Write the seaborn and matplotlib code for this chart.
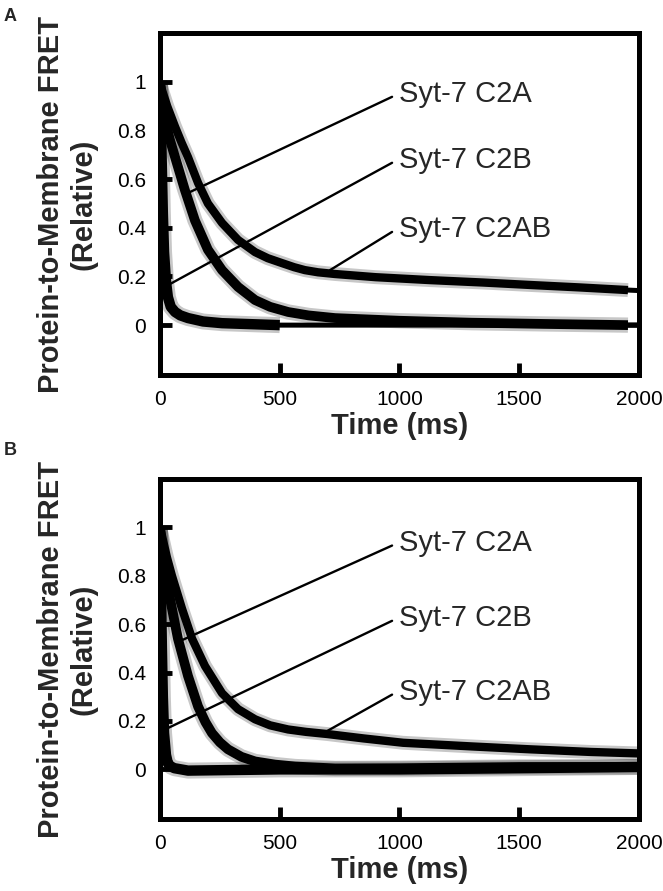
import numpy as np
import pandas as pd
import seaborn as sns
import matplotlib.pyplot as plt

# values (time in ms, relative FRET)
t_slow_a = [0, 8, 30, 63, 90, 117, 159, 200, 259, 326, 397, 450, 509, 560, 605, 660, 731, 900, 1127, 1350, 1545, 1750, 1954]
slow_a = [1.0, 0.967, 0.9, 0.815, 0.75, 0.69, 0.584, 0.50, 0.42, 0.35, 0.30, 0.275, 0.255, 0.238, 0.226, 0.217, 0.21, 0.197, 0.185, 0.175, 0.165, 0.155, 0.144]
t_mid_a = [0, 8, 21, 42, 63, 104, 146, 200, 259, 326, 397, 460, 535, 620, 731, 1000, 1300, 1600, 1954]
mid_a = [1.0, 0.93, 0.84, 0.76, 0.69, 0.555, 0.43, 0.31, 0.226, 0.157, 0.103, 0.075, 0.054, 0.04, 0.029, 0.018, 0.01, 0.005, 0.0]
t_fast_a = [0, 4, 8, 12, 17, 25, 33, 45, 63, 85, 117, 180, 259, 500]
fast_a = [1.0, 0.82, 0.64, 0.46, 0.30, 0.18, 0.115, 0.075, 0.054, 0.04, 0.029, 0.015, 0.008, 0.0]
fit_end_a = [0.142, 0.0, 0.0]  # fitted curves carried on to 2000 ms

t_slow_b = [0, 8, 28, 50, 92, 134, 188, 259, 326, 397, 460, 535, 610, 700, 850, 1015, 1300, 1545, 1800, 2000]
slow_b = [1.0, 0.967, 0.88, 0.80, 0.664, 0.54, 0.427, 0.315, 0.249, 0.207, 0.182, 0.165, 0.155, 0.146, 0.128, 0.11, 0.095, 0.083, 0.072, 0.066]
t_mid_b = [0, 13, 42, 75, 117, 159, 190, 217, 250, 284, 340, 397, 480, 564, 731, 1000, 1500, 2000]
mid_b = [1.0, 0.87, 0.705, 0.54, 0.386, 0.26, 0.195, 0.15, 0.112, 0.083, 0.052, 0.033, 0.02, 0.012, 0.004, 0.005, 0.01, 0.01]
t_fast_b = [0, 4, 8, 12, 17, 25, 33, 45, 60, 117, 500, 1000, 1500, 2000]
fast_b = [1.0, 0.75, 0.5, 0.3, 0.15, 0.06, 0.025, 0.012, 0.005, -0.005, 0.0, 0.0, 0.005, 0.01]

names = ["Syt-7 C2A", "Syt-7 C2B", "Syt-7 C2AB"]
xticks = [0, 500, 1000, 1500, 2000]
yticks = [0, 0.2, 0.4, 0.6, 0.8, 1]
ytick_labels = ["0", "0.2", "0.4", "0.6", "0.8", "1"]

sns.set_theme(style="white")
plt.rcParams['font.family'] = ['Liberation Sans', 'DejaVu Sans']

fig = plt.figure(figsize=(6.63, 8.91), dpi=100)
ax_a = fig.add_axes([0.2413, 0.5791, 0.7225, 0.3838])
ax_b = fig.add_axes([0.2413, 0.0808, 0.7225, 0.3816])


def draw_band(ax, t, y, width):
    df = pd.DataFrame({"t": t, "y": y})
    # speckled fringe, then the dense core of the trace
    sns.lineplot(data=df, x="t", y="y", ax=ax, color="black", lw=width + 4,
                 alpha=0.22, sort=False, estimator=None,
                 solid_capstyle="butt", solid_joinstyle="round")
    sns.lineplot(data=df, x="t", y="y", ax=ax, color="black", lw=width,
                 sort=False, estimator=None,
                 solid_capstyle="butt", solid_joinstyle="round")


def style_axes(ax):
    ax.set_xlim(0, 2000)
    ax.set_ylim(-0.205, 1.2)
    ax.set_xticks(xticks)
    ax.set_xticklabels([str(v) for v in xticks])
    ax.set_yticks(yticks)
    ax.set_yticklabels(ytick_labels)
    ax.tick_params(direction="in", length=8.6, width=3.5, labelsize=15,
                   color="black", labelcolor="black",
                   bottom=True, left=True, top=False, right=False)
    ax.tick_params(axis="y", pad=10)
    ax.tick_params(axis="x", pad=11)
    for s in ax.spines.values():
        s.set_linewidth(3.6)
        s.set_color("black")
    ax.set_xlabel("Time (ms)", fontsize=21, fontweight="bold", labelpad=2)
    ax.set_ylabel("Protein-to-Membrane FRET\n(Relative)", fontsize=21,
                  fontweight="bold", linespacing=1.2)
    ax.yaxis.set_label_coords(-0.13, 0.5)


def label_lines(ax, starts, ends):
    for name, (x0, y0), (x1, y1) in zip(names, starts, ends):
        ax.plot([x0, x1], [y0, y1], color="black", lw=1.7)
        ax.text(998, y0 + 0.01, name, fontsize=21, va="center", ha="left")


# panel A
draw_band(ax_a, t_slow_a, slow_a, 6)
draw_band(ax_a, t_mid_a, mid_a, 7)
draw_band(ax_a, t_fast_a, fast_a, 7.5)
for t, y, e in zip([t_slow_a, t_mid_a, t_fast_a], [slow_a, mid_a, fast_a], fit_end_a):
    ax_a.plot(t + [2000], y + [e], color="black", lw=3.6,
              solid_capstyle="butt", solid_joinstyle="round")
label_lines(ax_a,
            [(969, 0.938), (969, 0.667), (969, 0.383)],
            [(104, 0.537), (31, 0.163), (710, 0.226)])
style_axes(ax_a)

# panel B
draw_band(ax_b, t_slow_b, slow_b, 6)
draw_band(ax_b, t_mid_b, mid_b, 7)
draw_band(ax_b, t_fast_b, fast_b, 7.5)
label_lines(ax_b,
            [(969, 0.925), (969, 0.614), (969, 0.309)],
            [(94, 0.535), (23, 0.166), (697, 0.158)])
style_axes(ax_b)

fig.text(0.005, 1 - 8 / 891, "A", fontsize=13, fontweight="bold", va="top", ha="left")
fig.text(0.005, 1 - 442 / 891, "B", fontsize=13, fontweight="bold", va="top", ha="left")

fig.savefig("out.png", dpi=100)
